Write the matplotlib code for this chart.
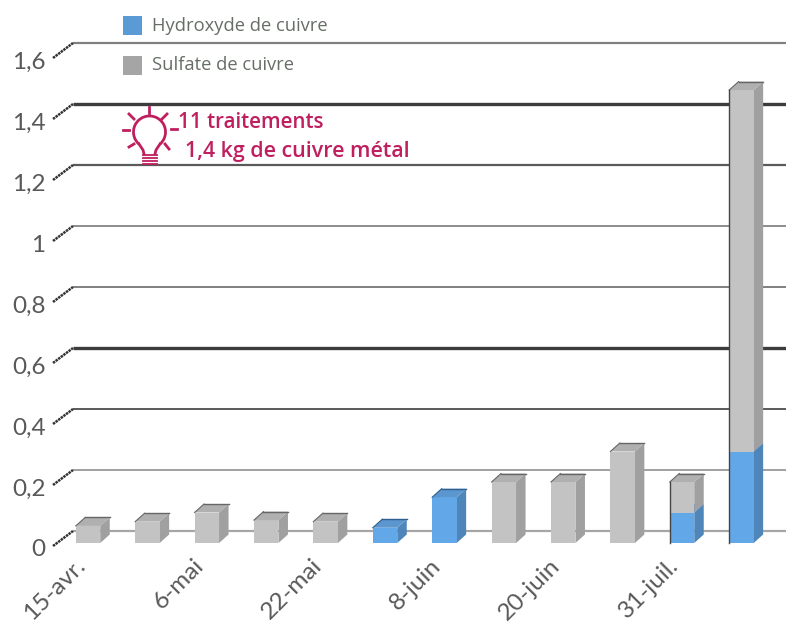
#!/usr/bin/env python3
"""Traitements cuivre: faux-3D stacked bars, drawn with polygons."""

import numpy as np
import matplotlib
matplotlib.use('Agg')
import matplotlib.pyplot as plt
from matplotlib.patches import Polygon, Rectangle, Arc

W, H = 786, 627

# ─── Data ───
hydroxyde = [0, 0, 0, 0, 0, 0.05, 0.15, 0, 0, 0, 0.10, 0.30]
sulfate = [0.056, 0.07, 0.10, 0.075, 0.07, 0, 0, 0.20, 0.20, 0.30, 0.10, 1.185]
date_labels = ['15-avr.', '6-mai', '22-mai', '8-juin', '20-juin', '31-juil.']
date_pos = [0, 2, 4, 6, 8, 10]
y_ticks = [0, 0.2, 0.4, 0.6, 0.8, 1.0, 1.2, 1.4, 1.6]
y_labels = ['0', '0,2', '0,4', '0,6', '0,8', '1', '1,2', '1,4', '1,6']
grid_colors = ['#a6a6a6', '#a0a0a0', '#5a5a5a', '#3c3c3c', '#808080', '#8c8c8c', '#5a5a5a', '#3c3c3c', '#808080']
grid_widths = [1.6, 1.4, 1.4, 2.4, 1.4, 1.4, 1.6, 2.4, 1.6]

# scales: one category = 59.4 px, one unit = 305 px
px_x = 59.4
px_y = 305.0
x0_px = 88.0
y0_px = 543.0

BLUE = ('#62a8e8', '#4f86ba', '#5b96cf')
GREY = ('#c3c3c3', '#a0a0a0', '#b0b0b0')

fig = plt.figure(figsize=(W / 100, H / 100), dpi=100)
ax = fig.add_axes([0, 0, 1, 1])
ax.set_xlim(-x0_px / px_x, (W - x0_px) / px_x)
ax.set_ylim((y0_px - H) / px_y, y0_px / px_y)
ax.axis('off')

# depth of the bars and of the back wall, in data units
bar_w = 24.5 / px_x
dx = 9.5 / px_x
dy = 8.5 / px_y
wall_y = 12 / px_y
tick_dx = 20 / px_x
tick_dy = 15 / px_y
tick_x = (73 - x0_px) / px_x


def box(x, y0, y1, cols, top_line=None, zorder=3):
    l, r = x - bar_w / 2, x + bar_w / 2
    ax.add_patch(Polygon([(r, y0), (r + dx, y0 + dy), (r + dx, y1 + dy), (r, y1)], fc=cols[1], ec='none', zorder=zorder))
    ax.add_patch(Rectangle((l, y0), bar_w, y1 - y0, fc=cols[0], ec='none', zorder=zorder + 0.1))
    ax.add_patch(Polygon([(l, y1), (l + dx, y1 + dy), (r + dx, y1 + dy), (r, y1)], fc=cols[2], ec='none', zorder=zorder + 0.2))
    if top_line:
        ax.plot([l + dx, r + dx], [y1 + dy, y1 + dy], color=top_line, lw=1, zorder=zorder + 0.3)
        ax.plot([l, l + dx], [y1, y1 + dy], color=top_line, lw=0.8, zorder=zorder + 0.3)


# ─── Back wall ───
for v, lab, c, lw in zip(y_ticks, y_labels, grid_colors, grid_widths):
    yw = v + wall_y
    ax.plot([tick_x, ax.get_xlim()[1]], [yw, yw], color=c, lw=lw, solid_capstyle='butt', zorder=1)
    ax.plot([tick_x - tick_dx, tick_x], [yw - tick_dy, yw], color='#333333', lw=1.8, ls=(0, (1.0, 0.3)), zorder=1)
    ax.text((45.5 - x0_px) / px_x, v - 7 / px_y, lab, ha='right', va='center', fontsize=17.5,
            family='Lato', color='#595959')

# ─── Bars ───
for i, (h, s) in enumerate(zip(hydroxyde, sulfate)):
    if h > 0:
        box(i, 0, h, BLUE, top_line='#2f5f8f' if s == 0 else None, zorder=3)
    if s > 0:
        box(i, h, h + s, GREY, top_line='#666666', zorder=4)
    if h > 0 and s > 0:
        l = i - bar_w / 2
        ax.plot([l, l], [0, h + s], color='#444444', lw=1, zorder=5)

# ─── Date labels ───
for p, lab in zip(date_pos, date_labels):
    ax.text(p - 14 / px_x, -12 / px_y, lab, rotation=45, rotation_mode='anchor', ha='right', va='top',
            fontsize=17.6, family='Lato', color='#595959')

# ─── Overlay in pixels: legend and note ───
ov = fig.add_axes([0, 0, 1, 1], facecolor='none')
ov.set_xlim(0, W)
ov.set_ylim(H, 0)
ov.axis('off')

ov.add_patch(Rectangle((123, 16), 19, 19, fc='#5b9bd5', ec='none'))
ov.add_patch(Rectangle((123, 56), 19, 19, fc='#a5a5a5', ec='none'))
ov.text(152, 26, 'Hydroxyde de cuivre', fontsize=13.2, family='Open Sans', color='#666e66', va='center')
ov.text(152, 65, 'Sulfate de cuivre', fontsize=13.2, family='Open Sans', color='#666e66', va='center')

PINK = '#bf1f5f'
ov.text(178, 123, '11 traitements', fontsize=14.8, family='Open Sans', fontweight='semibold', color=PINK, va='center')
ov.text(185, 151, '1,4 kg de cuivre métal', fontsize=15.4, family='Open Sans', fontweight='semibold', color=PINK, va='center')

# bulb
ov.add_patch(Arc((149.5, 132), 32, 32, theta1=130, theta2=50, ec=PINK, lw=2))
ov.plot([139, 143, 144], [144, 150, 154], color=PINK, lw=2)
ov.plot([160, 156, 155], [144, 150, 154], color=PINK, lw=2)
for yb in [155, 158, 161, 164]:
    ov.plot([143, 157], [yb, yb], color=PINK, lw=1.3)
rays = [((148.5, 107), (148.5, 113)), ((129, 114), (134, 119)), ((167, 114), (162, 119)),
        ((123, 130), (129, 130)), ((171, 129), (177, 129)), ((129, 147), (134, 144)), ((169, 149), (165, 144))]
for a, b in rays:
    ov.plot([a[0], b[0]], [a[1], b[1]], color=PINK, lw=2)

fig.savefig('out.png', dpi=100)
